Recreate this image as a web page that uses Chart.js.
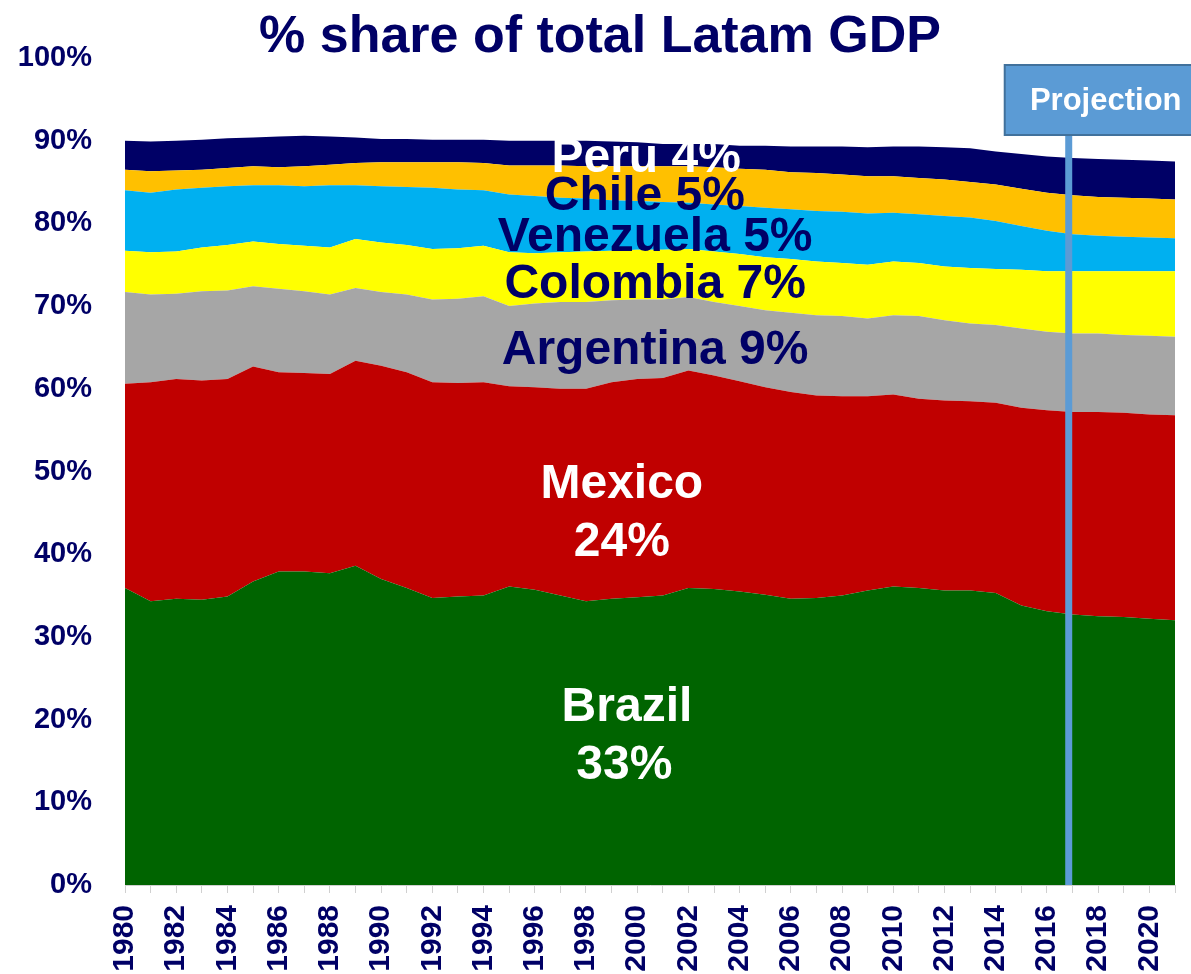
<!DOCTYPE html>
<html>
<head>
<meta charset="utf-8">
<title>% share of total Latam GDP</title>
<script src="https://cdn.jsdelivr.net/npm/chart.js@4.4.1/dist/chart.umd.min.js"></script>
<style>
  html, body { margin: 0; padding: 0; background: #fff; overflow: hidden; }
  #wrap { width: 1191px; height: 974px; }
</style>
</head>
<body>
<div id="wrap"><canvas id="gdpChart" width="1191" height="974"></canvas></div>
<script>
// % share of total Latam GDP, 1980-2021 (stacked, bottom to top)
const years = ['1980','1981','1982','1983','1984','1985','1986','1987','1988','1989',
  '1990','1991','1992','1993','1994','1995','1996','1997','1998','1999',
  '2000','2001','2002','2003','2004','2005','2006','2007','2008','2009',
  '2010','2011','2012','2013','2014','2015','2016','2017','2018','2019',
  '2020','2021'];

const brazil = [35.9, 34.3, 34.6, 34.5, 34.9, 36.7, 37.9, 37.9, 37.7, 38.6,
  37.0, 35.9, 34.7, 34.9, 35.0, 36.1, 35.7, 35.0, 34.3, 34.6,
  34.8, 35.0, 35.9, 35.8, 35.5, 35.1, 34.6, 34.7, 35.0, 35.6,
  36.1, 35.9, 35.6, 35.6, 35.3, 33.8, 33.1, 32.7, 32.5, 32.4,
  32.2, 32.0];
const mexico = [24.7, 26.5, 26.6, 26.5, 26.3, 26.0, 24.1, 24.0, 24.1, 24.8,
  25.8, 26.1, 26.1, 25.8, 25.8, 24.2, 24.5, 25.0, 25.7, 26.2,
  26.4, 26.3, 26.3, 25.8, 25.4, 25.1, 25.0, 24.5, 24.1, 23.5,
  23.2, 22.9, 23.0, 22.9, 23.0, 23.9, 24.3, 24.5, 24.7, 24.7,
  24.7, 24.8];
const argentina = [11.1, 10.6, 10.3, 10.8, 10.7, 9.7, 10.1, 9.9, 9.6, 8.8,
  8.9, 9.4, 10.0, 10.2, 10.4, 9.7, 10.1, 10.5, 10.5, 9.9,
  9.6, 9.5, 8.9, 8.9, 9.1, 9.3, 9.6, 9.7, 9.7, 9.4,
  9.6, 10.0, 9.7, 9.4, 9.4, 9.6, 9.5, 9.5, 9.5, 9.4,
  9.5, 9.5];
const colombia = [5.0, 5.1, 5.1, 5.3, 5.5, 5.4, 5.4, 5.5, 5.7, 5.9,
  6.0, 6.0, 6.1, 6.1, 6.1, 6.5, 6.1, 6.0, 6.1, 6.0,
  6.0, 6.0, 5.8, 6.1, 6.3, 6.4, 6.5, 6.5, 6.4, 6.5,
  6.5, 6.4, 6.5, 6.7, 6.8, 7.1, 7.3, 7.5, 7.5, 7.7,
  7.8, 7.9];
const venezuela = [7.3, 7.2, 7.5, 7.2, 7.1, 6.8, 7.1, 7.2, 7.5, 6.5,
  6.8, 7.0, 7.4, 7.1, 6.7, 7.0, 6.9, 6.6, 6.4, 6.1,
  5.9, 5.8, 5.6, 5.7, 5.8, 6.0, 6.0, 6.1, 6.2, 6.2,
  5.9, 5.9, 6.1, 6.1, 5.8, 5.3, 4.9, 4.5, 4.3, 4.2,
  4.1, 4.0];
const chile = [2.5, 2.6, 2.3, 2.2, 2.2, 2.3, 2.2, 2.4, 2.5, 2.7,
  2.9, 3.0, 3.1, 3.3, 3.3, 3.5, 3.7, 3.9, 3.9, 4.1,
  4.2, 4.3, 4.4, 4.5, 4.5, 4.6, 4.5, 4.6, 4.5, 4.5,
  4.4, 4.4, 4.4, 4.3, 4.4, 4.5, 4.6, 4.7, 4.7, 4.7,
  4.7, 4.7];
const peru = [3.5, 3.6, 3.6, 3.6, 3.6, 3.5, 3.7, 3.7, 3.4, 3.1,
  2.8, 2.8, 2.7, 2.7, 2.8, 3.0, 3.0, 3.0, 3.1, 3.0,
  2.9, 2.7, 2.7, 2.8, 2.8, 2.9, 3.1, 3.2, 3.4, 3.5,
  3.6, 3.8, 3.9, 4.1, 4.0, 4.2, 4.4, 4.5, 4.6, 4.6,
  4.6, 4.6];

const yTicks = [0, 10, 20, 30, 40, 50, 60, 70, 80, 90, 100];
const projectionYear = 2016.85;

const NAVY = '#000066';
const FONT = '"Liberation Sans", Arial, sans-serif';

// area labels: [text, colour, year position, % position]
const areaLabels = [
  ['Peru 4%', '#ffffff', 2000.35, 88.0],
  ['Chile 5%', NAVY, 2000.3, 83.5],
  ['Venezuela 5%', NAVY, 2000.7, 78.5],
  ['Colombia 7%', NAVY, 2000.7, 72.8],
  ['Argentina 9%', NAVY, 2000.7, 64.9],
  ['Mexico', '#ffffff', 1999.4, 48.6],
  ['24%', '#ffffff', 1999.4, 41.6],
  ['Brazil', '#ffffff', 1999.6, 21.7],
  ['33%', '#ffffff', 1999.5, 14.6]
];

function areaSet(label, data, color, idx) {
  return {
    label: label,
    data: data,
    backgroundColor: color,
    borderColor: color,
    borderWidth: 0,
    pointRadius: 0,
    tension: 0,
    fill: idx === 0 ? 'origin' : '-1'
  };
}

const overlayPlugin = {
  id: 'overlay',
  afterDatasetsDraw(chart) {
    const ctx = chart.ctx;
    const xs = chart.scales.x, ys = chart.scales.y;
    const area = chart.chartArea;

    ctx.save();
    ctx.textAlign = 'center';
    ctx.textBaseline = 'middle';
    ctx.font = 'bold 48px ' + FONT;
    areaLabels.forEach(l => {
      ctx.fillStyle = l[1];
      ctx.fillText(l[0], xs.getPixelForValue(l[2] - 1980), ys.getPixelForValue(l[3]) + 2);
    });

    // projection marker
    const px = xs.getPixelForValue(projectionYear - 1980);
    const boxTop = area.top + 7, boxBottom = area.top + 77;
    ctx.strokeStyle = '#5B9BD5';
    ctx.lineWidth = 7;
    ctx.beginPath();
    ctx.moveTo(px, boxBottom);
    ctx.lineTo(px, area.bottom);
    ctx.stroke();

    ctx.fillStyle = '#5B9BD5';
    ctx.fillRect(px - 64, boxTop, 260, boxBottom - boxTop);
    ctx.strokeStyle = '#41719C';
    ctx.lineWidth = 2;
    ctx.strokeRect(px - 64, boxTop, 260, boxBottom - boxTop);
    ctx.fillStyle = '#ffffff';
    ctx.font = 'bold 31px ' + FONT;
    ctx.fillText('Projection', px + 37, (boxTop + boxBottom) / 2 + 1);

    // title
    ctx.fillStyle = NAVY;
    ctx.font = 'bold 52px ' + FONT;
    ctx.fillText('% share of total Latam GDP', 600, 38);
    ctx.restore();
  }
};

new Chart(document.getElementById('gdpChart'), {
  type: 'line',
  data: {
    labels: years,
    datasets: [
      areaSet('Brazil', brazil, '#006400', 0),
      areaSet('Mexico', mexico, '#C00000', 1),
      areaSet('Argentina', argentina, '#A6A6A6', 2),
      areaSet('Colombia', colombia, '#FFFF00', 3),
      areaSet('Venezuela', venezuela, '#00B0F0', 4),
      areaSet('Chile', chile, '#FFC000', 5),
      areaSet('Peru', peru, '#000066', 6)
    ]
  },
  options: {
    responsive: false,
    animation: false,
    layout: { padding: { top: 58, right: 16, bottom: 0, left: 0 } },
    plugins: {
      legend: { display: false },
      tooltip: { enabled: false },
      title: { display: false }
    },
    scales: {
      x: {
        afterFit(scale) {
          scale.height = 89;
          scale.paddingLeft = 0;
          scale.paddingRight = 0;
        },
        grid: { display: true, drawOnChartArea: false, drawTicks: true, tickLength: 8, color: '#d0d0d0' },
        border: { display: true, color: '#d0d0d0' },
        ticks: {
          autoSkip: false,
          maxRotation: 90,
          minRotation: 90,
          padding: 12,
          color: NAVY,
          font: { family: FONT, size: 30, weight: 'bold' },
          callback: (v, i) => (+years[i] % 2 === 0 ? years[i] : '')
        }
      },
      y: {
        stacked: true,
        min: 0,
        max: 100,
        afterFit(scale) { scale.width = 125; },
        afterBuildTicks(scale) { scale.ticks = yTicks.map(v => ({ value: v })); },
        grid: { display: false, drawTicks: false },
        border: { display: false },
        ticks: {
          padding: 33,
          color: NAVY,
          font: { family: FONT, size: 29, weight: 'bold' },
          callback: v => v + '%'
        }
      }
    }
  },
  plugins: [overlayPlugin]
});
</script>
</body>
</html>
